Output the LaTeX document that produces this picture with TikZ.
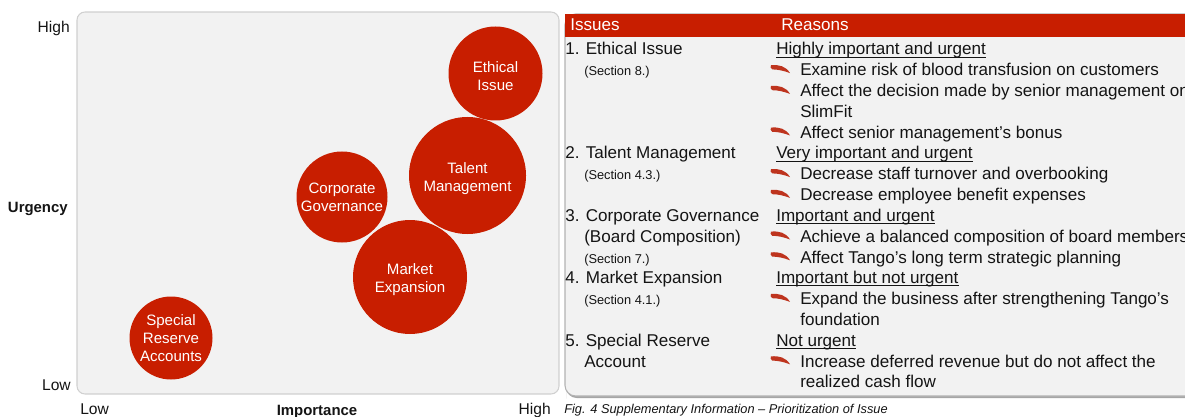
\documentclass[tikz,border=0pt]{standalone}
\usepackage{fontspec}
\setmainfont{Liberation Sans}
\definecolor{bubred}{RGB}{200,30,0}
\definecolor{panelgray}{RGB}{242,242,242}
\definecolor{panelline}{RGB}{208,208,208}
\definecolor{bulletred}{RGB}{190,52,30}
\definecolor{ink}{RGB}{20,20,20}
\newdimen\pxu \pxu=0.75pt
\tikzset{
  bubble/.style={circle, fill=bubred, inner sep=0pt},
  bublabel/.style={text=white, align=center, inner sep=0pt,
    font=\fontsize{11.3}{13.5}\selectfont},
  txt/.style={anchor=base west, inner sep=0pt, text=ink, font=\fontsize{12.8}{15.6}\selectfont},
  smalltxt/.style={anchor=base west, inner sep=0pt, text=ink, font=\fontsize{9.6}{12}\selectfont},
  headtxt/.style={anchor=base west, inner sep=0pt, text=white, font=\fontsize{12.8}{15.6}\selectfont},
  axis/.style={inner sep=0pt, text=ink, font=\fontsize{11.7}{14}\selectfont},
  axisbold/.style={inner sep=0pt, text=ink, font=\fontsize{11.2}{14}\selectfont\bfseries},
  ulline/.style={draw=ink, line width=0.8pt},
  swoosh/.pic={\fill[bulletred] (0,0.4) .. controls (8,-0.4) and (15,1.5) .. (19,8.3)
      .. controls (13,6) and (7,4.6) .. (1.2,4.6) .. controls (-0.6,3.8) and (-0.8,1.4) .. (0,0.4) -- cycle;}
}
\begin{document}
\begin{tikzpicture}[x=0.75pt,y=-0.75pt]
\useasboundingbox (0,0) rectangle (1185,417);
\clip (0,0) rectangle (1185,417);

% left panel
\draw[fill=panelgray, draw=panelline, line width=0.8pt, rounded corners=6pt] (77,12) rectangle (559,394);

% bubbles
\node[bubble, minimum size=94\pxu] (eth) at (495.5,73.5) {};
\node[bubble, minimum size=117\pxu] (tal) at (467.5,175.5) {};
\node[bubble, minimum size=91\pxu] (cor) at (342,197) {};
\node[bubble, minimum size=114\pxu] (mar) at (410,277) {};
\node[bubble, minimum size=83\pxu] (spe) at (171,338) {};
\node[bublabel] (ethl) at (495.5,76) {Ethical\\Issue};
\node[bublabel] (tall) at (467.5,178.5) {Talent\\Management};
\node[bublabel] (corl) at (342,197) {Corporate\\Governance};
\node[bublabel] (marl) at (410,280) {Market\\Expansion};
\node[bublabel] (spel) at (171,338) {Special\\Reserve\\Accounts};

% axis labels
\node[axis, anchor=base east] (yhigh) at (70,33) {High};
\node[axis, anchor=base east] (ylow) at (71,390) {Low};
\node[axisbold, anchor=base east] (yurg) at (68,213) {Urgency};
\node[axis, anchor=base west] (xlow) at (80,414) {Low};
\node[axisbold, anchor=base] (ximp) at (317,415) {Importance};
\node[axis, anchor=base east] (xhigh) at (551,414) {High};
\node[anchor=base west, inner sep=0pt, text=ink, font=\fontsize{9.6}{11}\selectfont\itshape] (cap) at (564,413)
  {Fig. 4 Supplementary Information -- Prioritization of Issue};

% right panel
\fill[black!35, rounded corners=8pt] (566,16) -- (566,388) -- (566,398) -- (1200,398) -- (1200,16) -- cycle;
\path[fill=panelgray, draw=black!30, line width=0.8pt, rounded corners=8pt] (565,14) -- (565,396) -- (1200,396) -- (1200,14) -- cycle;
\fill[bubred] (565,14) rectangle (1200,37);
\node[headtxt] (hiss) at (570,31) {Issues};
\node[headtxt] (hrea) at (781,31) {Reasons};

% issues column
\node[txt] (i1) at (565,55) {1. Ethical Issue};
\node[smalltxt] (s1) at (584,75.8) {(Section 8.)};
\node[txt] (i2) at (565,159) {2. Talent Management};
\node[smalltxt] (s2) at (584,179.8) {(Section 4.3.)};
\node[txt] (i3) at (565,221.4) {3. Corporate Governance};
\node[txt] (i3b) at (584,242.2) {(Board Composition)};
\node[smalltxt] (s3) at (584,263) {(Section 7.)};
\node[txt] (i4) at (565,283.8) {4. Market Expansion};
\node[smalltxt] (s4) at (584,304.6) {(Section 4.1.)};
\node[txt] (i5) at (565,346.2) {5. Special Reserve};
\node[txt] (i5b) at (584,367) {Account};

% reasons column: headings
\node[txt] (u1) at (776,55) {Highly important and urgent};
\node[txt] (u2) at (776,159) {Very important and urgent};
\node[txt] (u3) at (776,221.4) {Important and urgent};
\node[txt] (u4) at (776,283.8) {Important but not urgent};
\node[txt] (u5) at (776,346.2) {Not urgent};
\foreach \u in {u1,u2,u3,u4,u5}{
  \draw[ulline] ([yshift=-1.6pt]\u.base west) -- ([yshift=-1.6pt]\u.base east);
}

% reasons column: bullets
\foreach \yb in {75.8,96.6,138.2,179.8,200.6,242.2,263,304.6,367}{
  \pic at (771,\yb-11) {swoosh};
}
\node[txt] (r1a) at (800,75.8) {Examine risk of blood transfusion on customers};
\node[txt] (r1b) at (800,96.6) {Affect the decision made by senior management on};
\node[txt] (r1c) at (800,117.4) {SlimFit};
\node[txt] (r1d) at (800,138.2) {Affect senior management’s bonus};
\node[txt] (r2a) at (800,179.8) {Decrease staff turnover and overbooking};
\node[txt] (r2b) at (800,200.6) {Decrease employee benefit expenses};
\node[txt] (r3a) at (800,242.2) {Achieve a balanced composition of board members};
\node[txt] (r3b) at (800,263) {Affect Tango’s long term strategic planning};
\node[txt] (r4a) at (800,304.6) {Expand the business after strengthening Tango’s};
\node[txt] (r4b) at (800,325.4) {foundation};
\node[txt] (r5a) at (800,367) {Increase deferred revenue but do not affect the};
\node[txt] (r5b) at (800,387.8) {realized cash flow};
\end{tikzpicture}
\end{document}
